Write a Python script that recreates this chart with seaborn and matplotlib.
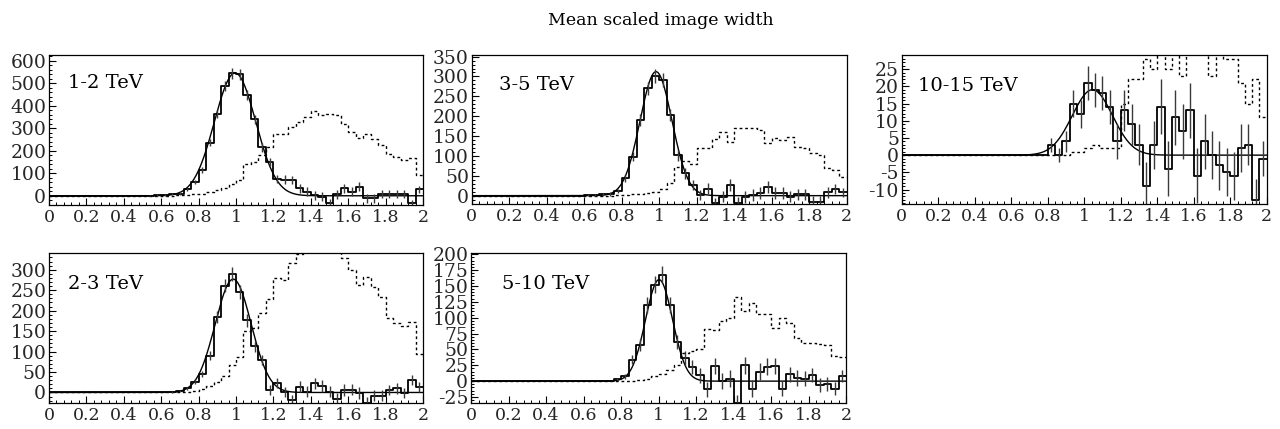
import numpy as np
import pandas as pd
import matplotlib
matplotlib.use("Agg")
import matplotlib.pyplot as plt
import seaborn as sns
from matplotlib.ticker import MultipleLocator, FuncFormatter

sns.set_theme(style="white")
plt.rcParams['font.family'] = ['DejaVu Serif']

# ---------------- data ----------------
bin_edges = np.round(np.arange(0.0, 2.0001, 0.04), 2)   # 50 bins, 0..2

panel_labels = ["1-2 TeV", "3-5 TeV", "10-15 TeV", "2-3 TeV", "5-10 TeV"]

# 1-2 TeV
sig_1_2 = [0]*13 + [1, 3, 5, 8, 10,
                    28, 62, 114, 236, 363, 489, 544, 540, 447, 339, 215, 151, 73, 72, 70, 33,
                    18, 2, -5, -33, 7, 33, 18, 40, -12, -12, 7, 7, 7, 7, -33, 28]
err_1_2 = [0]*13 + [2, 3, 4, 5, 6, 8, 10, 12, 16, 19, 22, 24, 24, 23, 21, 19, 18, 18, 19, 19,
                    19, 20, 20, 20, 20, 20, 20, 19, 19, 19, 18, 18, 17, 17, 17, 16, 16]
bkg_1_2 = [0]*15 + [0, 1, 2, 4, 6, 10, 15, 24, 35, 52, 72, 142, 150, 180, 216, 276, 276, 305,
                    327, 350, 376, 357, 361, 357, 320, 283, 256, 276, 250, 224, 187, 172, 161,
                    167, 93]
fit_1_2 = (545, 0.995, 0.110)

# 3-5 TeV
sig_3_5 = [0]*15 + [1, 2, 3, 4, 12, 44, 98, 190, 270, 301, 291, 203, 102, 56, 27, 2, 18, -19,
                    -3, 27, -19, -3, 2, 6, 21, 6, 6, -3, 4, 4, -15, -15, 8, 16, 8]
err_3_5 = [0]*15 + [2, 2, 3, 4, 6, 9, 12, 15, 17, 18, 18, 16, 14, 13, 13, 13, 14, 14, 14, 15,
                    15, 15, 15, 15, 15, 15, 15, 14, 14, 14, 14, 13, 13, 13, 12]
bkg_3_5 = [0]*18 + [0, 1, 2, 3, 5, 7, 10, 18, 31, 73, 86, 80, 119, 119, 142, 159, 136, 171,
                    171, 171, 165, 132, 144, 140, 147, 123, 119, 107, 102, 69, 65, 48]
fit_3_5 = (312, 0.983, 0.085)

# 10-15 TeV
sig_10_15 = [0]*20 + [3, 0, 4, 15, 12, 21, 19, 18, 14, 4, 13, 9, 3, -9, 3, 14, -4, 11, 7, 13,
                      -6, 4, 0, -3, -5, -6, 2, 3, -13, -1]
err_10_15 = [0]*20 + [2, 2, 3, 4, 4, 5, 5, 5, 5, 5, 6, 6, 6, 7, 7, 8, 8, 8, 8, 8,
                      8, 8, 7, 7, 7, 7, 7, 6, 6, 5]
bkg_10_15 = [0]*22 + [0, 1, 1, 2, 3, 2, 2, 2, 15, 22, 22, 28, 25, 33, 25, 33, 23, 34, 34, 34,
                      23, 33, 28, 28, 21, 15, 22, 11]
fit_10_15 = (19, 1.045, 0.110)

# 2-3 TeV
sig_2_3 = [0]*16 + [1, 3, 10, 26, 45, 90, 185, 261, 289, 245, 177, 113, 79, 6, 24, 2, -19, 14,
                    2, 22, 16, 2, -15, 6, 7, -1, -25, -8, -8, 6, 10, -1, 30, 14]
err_2_3 = [0]*16 + [2, 3, 4, 6, 8, 11, 14, 16, 17, 17, 16, 14, 13, 12, 12, 12, 13, 13, 13, 14,
                    14, 14, 14, 14, 14, 14, 14, 13, 13, 13, 13, 12, 12, 12]
bkg_2_3 = [0]*18 + [2, 3, 8, 15, 26, 41, 66, 86, 150, 158, 195, 228, 279, 275, 316, 339, 352,
                    362, 368, 362, 350, 328, 300, 263, 282, 259, 234, 181, 171, 163, 173, 94]
fit_2_3 = (277, 0.985, 0.096)

# 5-10 TeV
sig_5_10 = [0]*19 + [3, 8, 34, 57, 120, 152, 168, 120, 62, 36, 23, 9, -13, 24, 0, 4, -35, 25,
                     -12, 15, 23, 24, -12, 11, 5, 4, 10, -6, -4, -12, 8]
err_5_10 = [0]*19 + [2, 4, 7, 9, 12, 13, 14, 13, 11, 11, 11, 12, 12, 12, 13, 13, 13, 13, 13, 13,
                     13, 13, 12, 12, 12, 12, 11, 11, 11, 10, 10]
bkg_5_10 = [0]*22 + [2, 4, 8, 12, 17, 25, 45, 47, 50, 82, 80, 95, 100, 132, 110, 123, 106, 106,
                     84, 100, 92, 68, 60, 60, 58, 57, 39, 38]
fit_5_10 = (160, 1.003, 0.072)

signals = [sig_1_2, sig_3_5, sig_10_15, sig_2_3, sig_5_10]
errors = [err_1_2, err_3_5, err_10_15, err_2_3, err_5_10]
backgrounds = [bkg_1_2, bkg_3_5, bkg_10_15, bkg_2_3, bkg_5_10]
fits = [fit_1_2, fit_3_5, fit_10_15, fit_2_3, fit_5_10]

# ---------------- layout / style ----------------
W, H = 1280, 429
rects_px = [(49, 55, 374, 150), (471.7, 55, 375, 149), (901.7, 55, 365, 149),
            (49, 253, 374, 149.7), (471, 253, 375, 149.7)]
ylims = [(-41, 625), (-21, 354), (-14.2, 29.1), (-25, 341), (-34, 202)]
ymajor = [100, 50, 5, 50, 25]
yminor = [20, 10, 1, 10, 5]
label_pos = [(0.05, 0.81), (0.073, 0.80), (0.045, 0.79), (0.05, 0.79), (0.083, 0.79)]

fig = plt.figure(figsize=(W / 100, H / 100), dpi=100)
fig.patch.set_facecolor("white")

centers = (bin_edges[:-1] + bin_edges[1:]) / 2
xs_fit = np.linspace(0, 2, 600)

for k in range(5):
    x0, y0, w, h = rects_px[k]
    ax = fig.add_axes([x0 / W, 1 - (y0 + h) / H, w / W, h / H])
    sig = np.array(signals[k], dtype=float)
    err = np.array(errors[k], dtype=float)
    bkg = np.array(backgrounds[k], dtype=float)

    df_sig = pd.DataFrame({"x": bin_edges, "y": np.append(sig, sig[-1])})
    df_bkg = pd.DataFrame({"x": bin_edges, "y": np.append(bkg, bkg[-1])})
    A, mu, s = fits[k]
    df_fit = pd.DataFrame({"x": xs_fit, "y": A * np.exp(-0.5 * ((xs_fit - mu) / s) ** 2)})

    sns.lineplot(data=df_bkg, x="x", y="y", ax=ax, drawstyle="steps-post", color="black",
                 lw=1.0, linestyle=(0, (2, 2)), estimator=None, sort=False)
    sns.lineplot(data=df_fit, x="x", y="y", ax=ax, color="black", lw=1.0,
                 estimator=None, sort=False)
    sns.lineplot(data=df_sig, x="x", y="y", ax=ax, drawstyle="steps-post", color="black",
                 lw=1.3, estimator=None, sort=False)
    m = err > 0
    ax.errorbar(centers[m], sig[m], yerr=err[m], fmt="none", ecolor="#3a3a3a",
                elinewidth=1.0, capsize=0)

    ax.set_xlim(0, 2)
    ax.set_ylim(*ylims[k])
    ax.set_xlabel("")
    ax.set_ylabel("")
    ax.xaxis.set_major_locator(MultipleLocator(0.2))
    ax.xaxis.set_minor_locator(MultipleLocator(0.04))
    ax.yaxis.set_major_locator(MultipleLocator(ymajor[k]))
    ax.yaxis.set_minor_locator(MultipleLocator(yminor[k]))
    ax.xaxis.set_major_formatter(FuncFormatter(lambda v, p: "%g" % round(v, 2)))
    ax.yaxis.set_major_formatter(FuncFormatter(lambda v, p: "%g" % v))
    ax.tick_params(axis="both", which="major", direction="in", length=5, width=0.8,
                   color="black", bottom=True, left=True, top=False, right=False)
    ax.tick_params(axis="both", which="minor", direction="in", length=2.5, width=0.7,
                   color="black", bottom=True, left=True, top=False, right=False)
    ax.tick_params(axis="x", labelsize=12.5, pad=3)
    ax.tick_params(axis="y", labelsize=13.5, pad=2)
    for sp in ax.spines.values():
        sp.set_visible(True)
        sp.set_color("black")
        sp.set_linewidth(0.9)
    ax.set_facecolor("white")
    ax.text(label_pos[k][0], label_pos[k][1], panel_labels[k], transform=ax.transAxes,
            fontsize=14, ha="left", va="center", color="black")

fig.text(0.516, 0.953, "Mean scaled image width", ha="center", va="center",
         fontsize=12.5, color="black")

fig.savefig("out.png", dpi=100, facecolor="white")
